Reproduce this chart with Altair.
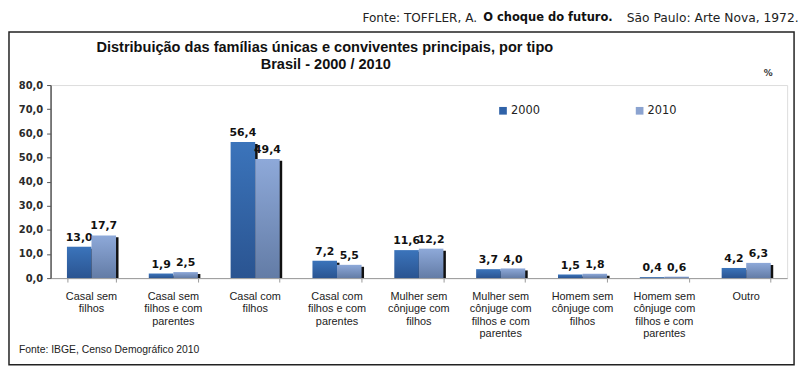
import altair as alt
import pandas as pd

cats = [
    "Casal sem filhos",
    "Casal sem filhos e com parentes",
    "Casal com filhos",
    "Casal com filhos e com parentes",
    "Mulher sem cônjuge com filhos",
    "Mulher sem cônjuge com filhos e com parentes",
    "Homem sem cônjuge com filhos",
    "Homem sem cônjuge com filhos e com parentes",
    "Outro",
]
cat_lines = [
    "Casal sem\nfilhos",
    "Casal sem\nfilhos e com\nparentes",
    "Casal com\nfilhos",
    "Casal com\nfilhos e com\nparentes",
    "Mulher sem\ncônjuge com\nfilhos",
    "Mulher sem\ncônjuge com\nfilhos e com\nparentes",
    "Homem sem\ncônjuge com\nfilhos",
    "Homem sem\ncônjuge com\nfilhos e com\nparentes",
    "Outro",
]
years = ["2000", "2010"]
v2000 = [13.0, 1.9, 56.4, 7.2, 11.6, 3.7, 1.5, 0.4, 4.2]
v2010 = [17.7, 2.5, 49.4, 5.5, 12.2, 4.0, 1.8, 0.6, 6.3]
y_ticks = [0, 10, 20, 30, 40, 50, 60, 70, 80]

rows = []
for c, a, b in zip(cats, v2000, v2010):
    rows.append({"cat": c, "ano": "2000", "valor": a, "lbl": f"{a:.1f}".replace(".", ",")})
    rows.append({"cat": c, "ano": "2010", "valor": b, "lbl": f"{b:.1f}".replace(".", ",")})
df = pd.DataFrame(rows)
catdf = pd.DataFrame({"cat": cats, "lbl2": cat_lines})
one = pd.DataFrame({"k": [0]})

W, H = 744, 195
BW = 24.8  # width of one bar

xenc = alt.X(
    "cat:N", sort=cats, title=None,
    scale=alt.Scale(paddingInner=0.4, paddingOuter=0.2),
    axis=alt.Axis(labels=False, tickBand="extent", domainColor="#9a9a9a",
                  tickColor="#9a9a9a", tickSize=4, grid=False),
)
yenc = alt.Y(
    "valor:Q", title=None,
    scale=alt.Scale(domain=[0, 80], nice=False),
    axis=alt.Axis(values=y_ticks, grid=False, domainColor="#555555", domainWidth=1.5,
                  tickColor="#555555", tickSize=4, labelPadding=4,
                  labelFont="DejaVu Sans", labelFontSize=10, labelColor="#2a2a2a",
                  labelFontWeight=600,
                  labelExpr="replace(format(datum.value, '.1f'), '.', ',')"),
)

base = alt.Chart(df).encode(x=xenc, y=yenc)

def grad(top, bottom):
    return alt.Gradient(
        gradient="linear", x1=0, x2=0, y1=0, y2=1,
        stops=[alt.GradientStop(color=top, offset=0), alt.GradientStop(color=bottom, offset=1)],
    )

layers = []
for yr, off, top, bot in [("2000", -BW / 2, "#3b74bb", "#2a5491"),
                          ("2010", BW / 2, "#8ea9d9", "#637ca6")]:
    sub = base.transform_filter(alt.datum.ano == yr)
    layers.append(sub.mark_bar(color="#111111", width=BW, xOffset=off + 2.5, yOffset=2, clip=True))
    layers.append(sub.mark_bar(color=grad(top, bot), width=BW, xOffset=off))
    layers.append(sub.mark_text(
        baseline="bottom", dx=off, dy=-4, font="DejaVu Sans", fontSize=11,
        fontWeight="bold", color="#111111").encode(text="lbl:N"))

catlabels = alt.Chart(catdf).mark_text(
    lineBreak="\n", baseline="top", font="Liberation Sans", fontSize=11,
    lineHeight=12.5, color="#222222",
).encode(x=alt.X("cat:N", sort=cats), y=alt.value(H + 13), text="lbl2:N")

def txt(s, x, y, **kw):
    return alt.Chart(one).mark_text(**kw).encode(x=alt.value(x), y=alt.value(y), text=alt.value(s))

def sq(x, y, color):
    return alt.Chart(one).mark_square(size=60, opacity=1, color=color).encode(x=alt.value(x), y=alt.value(y))

box = alt.Chart(one).mark_rect(fill=None, stroke="#222222", strokeWidth=1.5).encode(
    x=alt.value(-42), x2=alt.value(751), y=alt.value(-53.5), y2=alt.value(282.5)
)

annots = [
    box,
    txt("Distribuição das famílias únicas e conviventes principais, por tipo", 277, -37,
        align="center", baseline="middle", font="Liberation Sans", fontSize=14.7, fontWeight="bold", color="#111111"),
    txt("Brasil - 2000 / 2010", 278, -20,
        align="center", baseline="middle", font="Liberation Sans", fontSize=14.7, fontWeight="bold", color="#111111"),
    txt("%", 725, -12, align="center", baseline="middle", font="DejaVu Sans", fontSize=9,
        fontWeight="bold", color="#333333"),
    sq(457, 26, "#2f62a8"),
    txt("2000", 465, 26, align="left", baseline="middle", font="DejaVu Sans", fontSize=11.5, color="#222222"),
    sq(595, 26, "#8ba3d0"),
    txt("2010", 603, 26, align="left", baseline="middle", font="DejaVu Sans", fontSize=11.5, color="#222222"),
    txt("Fonte: TOFFLER, A.", 315, -68, align="left", baseline="middle", font="DejaVu Sans",
        fontSize=12.2, color="#222222"),
    txt("O choque do futuro.", 437, -68, align="left", baseline="middle", font="DejaVu Sans",
        fontSize=11.6, fontWeight="bold", color="#111111"),
    txt("São Paulo: Arte Nova, 1972.", 582, -68, align="left", baseline="middle", font="DejaVu Sans",
        fontSize=12.4, color="#222222"),
    txt("Fonte: IBGE, Censo Demográfico 2010", -32, 268, align="left", baseline="middle",
        font="Liberation Sans", fontSize=10.5, color="#222222"),
]

chart = alt.layer(*layers, catlabels, *annots).properties(
    width=W, height=H,
    autosize=alt.AutoSizeParams(type="none"),
    padding={"left": 43, "top": 76, "right": 13, "bottom": 91},
).configure_view(
    fill="#f4f7fc", stroke="#9090b8", strokeWidth=1.5
).configure(background="white")

chart.save("out.html", embed_options={"renderer": "svg", "actions": False})
